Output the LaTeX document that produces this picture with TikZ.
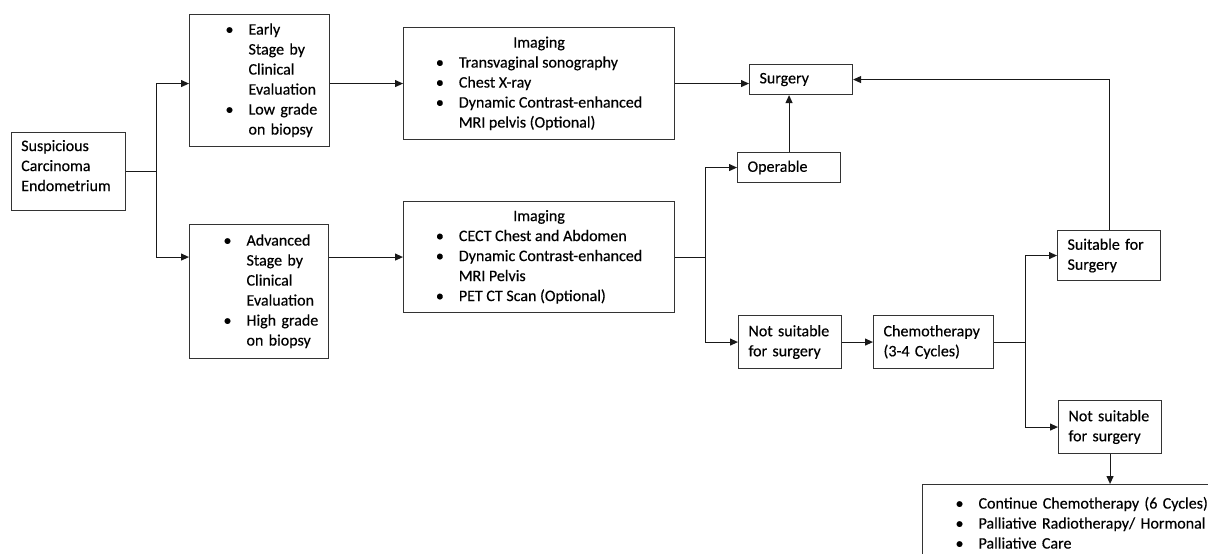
\documentclass[tikz,border=0pt]{standalone}
\usepackage{fontspec}
\setmainfont{Carlito}[FakeBold=0.35]
\usepackage{tikz}
\usetikzlibrary{arrows.meta}
\usetikzlibrary{calc}
\usetikzlibrary{positioning}

% bullet list: optional left pad, bullet column, text column
\newcommand{\bitems}[2][0pt]{\begin{tabular}{@{\hspace{#1}}p{23pt}@{}l@{}}#2\end{tabular}}
\newcommand{\bul}{\textbullet &}

\begin{document}
\begin{tikzpicture}[x=1pt,y=-1pt,>={Triangle[length=8pt,width=7pt]},
                    line width=1.1pt,font=\fontsize{16}{20}\selectfont]
  \tikzstyle{box}=[draw=black!80, rectangle, anchor=north west, align=left, inner xsep=10pt, inner ysep=0pt]
  \tikzstyle{lbox}=[box, inner xsep=0pt]
  \tikzstyle{ibox}=[draw=black!80, rectangle, anchor=north west, align=center, inner sep=0pt]
  \tikzstyle{line}=[draw=black!90]

  \useasboundingbox (0,0) rectangle (1208,554);
  \clip (0,0) rectangle (1208,554);

  \node[box, text width=94pt, minimum height=78pt, text depth=52pt] (susp) at (10.7,132) {Suspicious\\Carcinoma\\Endometrium};
  \node[lbox, text width=140pt, minimum height=132pt] (early) at (189,14)
       {\bitems[36pt]{\bul Early\\ & Stage by\\ & Clinical\\ & Evaluation\\ \bul Low grade\\ & on biopsy}};
  \node[lbox, text width=139pt, minimum height=134pt] (adv) at (189,224)
       {\bitems[34pt]{\bul Advanced\\ & Stage by\\ & Clinical\\ & Evaluation\\ \bul High grade\\ & on biopsy}};
  \node[ibox, minimum width=271pt, minimum height=112pt] (img1) at (403,27)
       {\bitems{\multicolumn{2}{c}{Imaging}\\ \bul Transvaginal sonography\\ \bul Chest X-ray\\ \bul Dynamic Contrast-enhanced\\ & MRI pelvis (Optional)}};
  \node[ibox, minimum width=271pt, minimum height=111pt] (img2) at (403,201)
       {\bitems{\multicolumn{2}{c}{Imaging}\\ \bul CECT Chest and Abdomen\\ \bul Dynamic Contrast-enhanced\\ & MRI Pelvis\\ \bul PET CT Scan (Optional)}};
  \node[box, text width=83pt, minimum height=30pt] (surg) at (749,64) {Surgery};
  \node[box, text width=83pt, minimum height=30pt] (oper) at (737,152) {Operable};
  \node[box, text width=83pt, minimum height=53pt] (ns1) at (738,315) {Not suitable\\for surgery};
  \node[box, text width=100pt, minimum height=53pt] (chemo) at (873,315) {Chemotherapy\\(3-4 Cycles)};
  \node[box, text width=83pt, minimum height=50pt] (suit) at (1057,230) {Suitable for\\Surgery};
  \node[box, text width=83pt, minimum height=53pt] (ns2) at (1058,400) {Not suitable\\for surgery};
  \node[lbox, text width=330pt, inner ysep=10pt] (bot) at (922,484)
       {\bitems[33pt]{\bul Continue Chemotherapy (6 Cycles)\\ \bul Palliative Radiotherapy/ Hormonal\\ \bul Palliative Care}};

  \coordinate (b1) at ([xshift=31pt]susp.east);
  \coordinate (b2) at ([xshift=30pt]img2.east);
  \coordinate (b3) at ([xshift=31pt]chemo.east);

  \draw[line] (susp.east) -- (b1);
  \draw[line,->] (b1) |- (early.west |- img1.west);
  \draw[line,->] (b1) |- (adv.west |- img2.west);
  \draw[line,->] (early.east |- img1.west) -- (img1.west);
  \draw[line,->] (adv.east |- img2.west) -- (img2.west);
  \draw[line,->] (img1.east) -- (img1.east -| surg.west);
  \draw[line] (img2.east) -- (b2);
  \draw[line,->] (b2) |- (oper.west);
  \draw[line,->] (b2) |- (ns1.west);
  \draw[line,->] (oper.north) -- (oper.north |- surg.south);
  \draw[line,->] (ns1) -- (chemo);
  \draw[line] (chemo.east) -- (b3);
  \draw[line,->] (b3) |- (suit.west);
  \draw[line,->] (b3) |- (ns2.west);
  \draw[line,->] (suit.north) |- (surg.east);
  \draw[line,->] (ns2.south) -- (ns2.south |- bot.north);
\end{tikzpicture}
\end{document}
